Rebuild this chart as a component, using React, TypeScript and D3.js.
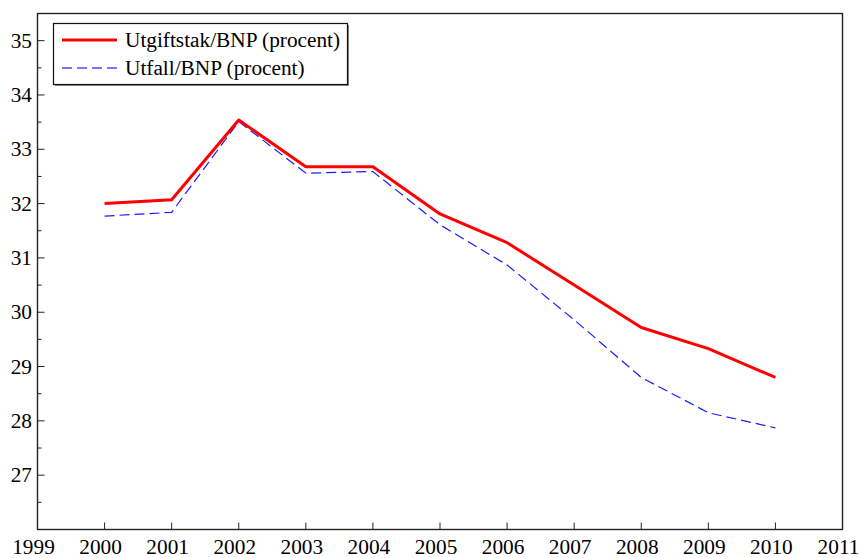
import React from "react";
import * as d3 from "d3";

// years on the x axis
const years = [2000, 2001, 2002, 2003, 2004, 2005, 2006, 2007, 2008, 2009, 2010];
// Utgiftstak/BNP (procent)
const ceiling = [32.0, 32.07, 33.54, 32.68, 32.68, 31.81, 31.28, 30.5, 29.72, 29.33, 28.8];
// Utfall/BNP (procent)
const outcome = [31.77, 31.84, 33.51, 32.56, 32.59, 31.61, 30.87, 29.86, 28.8, 28.15, 27.87];
const xTicks = [1999, 2000, 2001, 2002, 2003, 2004, 2005, 2006, 2007, 2008, 2009, 2010, 2011];
const yTicks = [27, 28, 29, 30, 31, 32, 33, 34, 35];
const yMinorTicks = [26.5, 27.5, 28.5, 29.5, 30.5, 31.5, 32.5, 33.5, 34.5, 35.5];
const seriesNames = ["Utgiftstak/BNP (procent)", "Utfall/BNP (procent)"];

const width = 859;
const height = 558;
const textStyle = { fontFamily: "Liberation Serif", fontSize: 21.3 };

const left = 37.5, right = 842.5, top = 13.5, bottom = 529.5;
const x = d3.scaleLinear().domain([1999, 2011]).range([left, right]);
const y = d3.scaleLinear().domain([26, 35.5]).range([bottom, top]);

const line = d3
  .line<number>()
  .x((d, i) => x(years[i]))
  .y((d) => y(d));

const legendStyles = [
  { color: "#ff0000", w: 3, dash: undefined as string | undefined },
  { color: "#4a4aff", w: 1.4, dash: "10,5" },
];

export default function App() {
  const lx = 53.5, ly = 23.5, lw = 294, lh = 61;
  return (
    <svg
      width={width}
      height={height}
      style={{ position: "absolute", left: 0, top: 0, background: "white" }}
    >
      {/* y axis ticks, inward */}
      {yTicks.map((d) => (
        <line key={"ym" + d} x1={left} x2={left + 7} y1={y(d)} y2={y(d)} stroke="#222" strokeWidth={1} />
      ))}
      {yMinorTicks.map((d) => (
        <line key={"yn" + d} x1={left} x2={left + 4} y1={y(d)} y2={y(d)} stroke="#222" strokeWidth={1} />
      ))}
      {yTicks.map((d) => (
        <text key={"yl" + d} x={32} y={y(d) + 7} textAnchor="end" fill="#000" style={textStyle}>
          {d}
        </text>
      ))}

      {/* x axis ticks */}
      {xTicks.slice(1, -1).map((d) => (
        <line key={"xm" + d} x1={x(d)} x2={x(d)} y1={bottom} y2={bottom - 7} stroke="#222" strokeWidth={1} />
      ))}
      {xTicks.map((d) => (
        <text key={"xl" + d} x={x(d) - 4} y={554} textAnchor="middle" fill="#000" style={textStyle}>
          {d}
        </text>
      ))}

      {/* frame */}
      <rect
        x={left}
        y={top}
        width={right - left}
        height={bottom - top}
        fill="none"
        stroke="#222"
        strokeWidth={1.4}
      />

      <path d={line(outcome) || ""} fill="none" stroke="#1a1aff" strokeWidth={1.2} strokeDasharray="10,5" />
      <path d={line(ceiling) || ""} fill="none" stroke="#ff0000" strokeWidth={3} strokeLinejoin="round" />

      {/* legend with shadow */}
      <rect x={lx + 1.5} y={ly + 1.5} width={lw} height={lh} fill="#888" />
      <rect x={lx} y={ly} width={lw} height={lh} fill="white" stroke="#111" strokeWidth={1.2} />
      {seriesNames.map((name, i) => {
        const cy = 40 + i * 28;
        return (
          <g key={name}>
            <line
              x1={62}
              x2={117}
              y1={cy}
              y2={cy}
              stroke={legendStyles[i].color}
              strokeWidth={legendStyles[i].w}
              strokeDasharray={legendStyles[i].dash}
            />
            <text x={125} y={cy + 7} fill="#000" style={textStyle}>
              {name}
            </text>
          </g>
        );
      })}
    </svg>
  );
}
